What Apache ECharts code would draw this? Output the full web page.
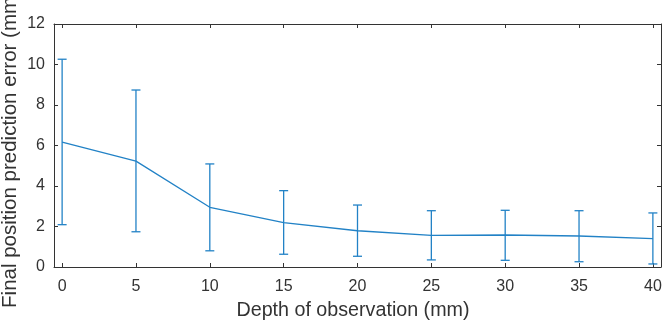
<!DOCTYPE html>
<html>
<head>
<meta charset="utf-8">
<script src="https://cdn.jsdelivr.net/npm/echarts@6/dist/echarts.min.js"></script>
<style>
  html, body { margin: 0; padding: 0; background: #fff; }
  #chart { width: 669px; height: 321px; }
</style>
</head>
<body>
<div id="chart"></div>
<script>
'use strict';

// Depth of observation (mm) and error stats
const depths = [0, 5, 10, 15, 20, 25, 30, 35, 40];
const meanErr = [6.17, 5.23, 2.95, 2.19, 1.79, 1.56, 1.58, 1.53, 1.40];
const upperErr = [10.26, 8.74, 5.09, 3.77, 3.06, 2.78, 2.80, 2.78, 2.67];
const lowerErr = [2.09, 1.74, 0.80, 0.63, 0.53, 0.35, 0.33, 0.26, 0.15];
const xTicks = [0, 5, 10, 15, 20, 25, 30, 35, 40];
const yTicks = [0, 2, 4, 6, 8, 10, 12];

const BLUE = '#2282c6';
const INK = '#333333';
const FONT = 'Liberation Sans, Arial, sans-serif';

const chart = echarts.init(document.getElementById('chart'), null, { renderer: 'canvas' });

function xAxisCfg(pos, showLabels) {
  return {
    type: 'value',
    position: pos,
    min: -0.55,
    max: 40.55,
    axisLine: { show: true, onZero: false, lineStyle: { color: INK, width: 1 } },
    axisTick: { show: true, inside: true, length: 4, customValues: xTicks, lineStyle: { color: INK } },
    axisLabel: { show: showLabels, customValues: xTicks, color: INK, fontSize: 16, fontFamily: FONT, margin: 12 },
    splitLine: { show: false },
  };
}

function yAxisCfg(pos, showLabels) {
  return {
    type: 'value',
    position: pos,
    min: yTicks[0],
    max: yTicks[yTicks.length - 1],
    interval: 2,
    axisLine: { show: true, onZero: false, lineStyle: { color: INK, width: 1 } },
    axisTick: { show: true, inside: true, length: 4, lineStyle: { color: INK } },
    axisLabel: { show: showLabels, color: INK, fontSize: 16, fontFamily: FONT, margin: 9 },
    splitLine: { show: false },
  };
}

const bars = depths.map((d, i) => [d, lowerErr[i], upperErr[i]]);

chart.setOption({
  animation: false,
  backgroundColor: '#fff',
  grid: { left: 54, right: 8, top: 24, bottom: 54 },
  xAxis: [xAxisCfg('bottom', true), xAxisCfg('top', false)],
  yAxis: [yAxisCfg('left', true), yAxisCfg('right', false)],
  graphic: [
    {
      type: 'text',
      x: 353,
      y: 301,
      style: { text: 'Depth of observation (mm)', fill: INK, font: '19.7px ' + FONT, align: 'center', verticalAlign: 'top' },
    },
    {
      type: 'text',
      x: 0,
      y: 149,
      rotation: Math.PI / 2,
      style: {
        text: 'Final position prediction error (mm)',
        fill: INK,
        font: '20.5px ' + FONT,
        align: 'center',
        verticalAlign: 'top',
      },
    },
  ],
  series: [
    {
      type: 'line',
      data: depths.map((d, i) => [d, meanErr[i]]),
      showSymbol: false,
      lineStyle: { color: BLUE, width: 1.3 },
      z: 3,
    },
    {
      type: 'custom',
      data: bars,
      encode: { x: 0, y: [1, 2] },
      renderItem(params, api) {
        const x = api.value(0);
        const lo = api.coord([x, api.value(1)]);
        const hi = api.coord([x, api.value(2)]);
        const cap = 4.5;
        const style = { stroke: BLUE, lineWidth: 1.3, fill: null };
        return {
          type: 'group',
          children: [
            { type: 'line', shape: { x1: lo[0], y1: lo[1], x2: hi[0], y2: hi[1] }, style },
            { type: 'line', shape: { x1: lo[0] - cap, y1: lo[1], x2: lo[0] + cap, y2: lo[1] }, style },
            { type: 'line', shape: { x1: hi[0] - cap, y1: hi[1], x2: hi[0] + cap, y2: hi[1] }, style },
          ],
        };
      },
      z: 4,
    },
  ],
});
</script>
</body>
</html>
